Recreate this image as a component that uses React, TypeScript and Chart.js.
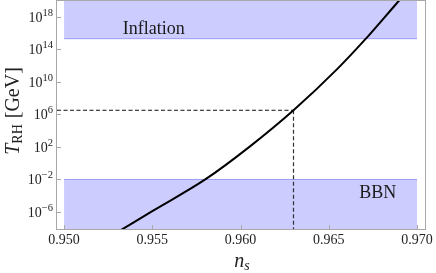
import React, { useEffect, useRef } from "react";
import { Chart, registerables } from "chart.js";

Chart.register(...registerables);

// Curve: reheating temperature vs spectral index
const nsValues = [0.953, 0.955, 0.958, 0.9605, 0.963, 0.9655, 0.9671, 0.968, 0.969];
const tRhValues = [3.2e-9, 1.3e-6, 1e-2, 1e2, 3.1e6, 4e11, 1.9e15, 3.2e17, 1e20];

// Reference point (dashed guides)
const markNs = 0.963;
const markT = 3.1e6;

// Bands
const bandNs = [0.95, 0.97];
const inflationLow = 1.9e15;
const bbnHigh = 1e-2;

// Axes
const xMin = 0.9496;
const xMax = 0.97045;
const yMin = 8.3e-9;
const yMax = 8e19;
const xTickValues = [0.95, 0.955, 0.96, 0.965, 0.97];
const yTickExps = [18, 14, 10, 6, 2, -2, -6];

const SERIF = "'Liberation Serif', 'DejaVu Serif', serif";

const decorPlugin = {
  id: "decor",
  afterDatasetsDraw(chart: any) {
    const ctx = chart.ctx;
    const xs = chart.scales.x;
    const ys = chart.scales.y;
    ctx.save();
    ctx.fillStyle = "#1a1a1a";
    ctx.font = `18px ${SERIF}`;
    ctx.textAlign = "left";
    ctx.textBaseline = "alphabetic";
    ctx.fillText("Inflation", xs.getPixelForValue(0.95333), ys.getPixelForValue(Math.pow(10, 15.8)));
    ctx.fillText("BBN", xs.getPixelForValue(0.96673), ys.getPixelForValue(Math.pow(10, -4.29)));
    ctx.restore();
  },
  afterDraw(chart: any) {
    const ctx = chart.ctx;
    const { left, right, top, bottom } = chart.chartArea;
    const xs = chart.scales.x;
    const ys = chart.scales.y;
    ctx.save();
    ctx.strokeStyle = "#a8a8a8";
    ctx.lineWidth = 1;
    ctx.strokeRect(Math.round(left) - 0.5, Math.round(top) - 0.5, Math.round(right - left) + 1, Math.round(bottom - top) + 1);
    ctx.beginPath();
    xTickValues.forEach((v) => {
      const px = Math.round(xs.getPixelForValue(v)) + 0.5;
      ctx.moveTo(px, bottom);
      ctx.lineTo(px, bottom - 4);
    });
    yTickExps.forEach((e) => {
      const py = Math.round(ys.getPixelForValue(Math.pow(10, e))) + 0.5;
      ctx.moveTo(left, py);
      ctx.lineTo(left + 4, py);
    });
    ctx.stroke();

    ctx.fillStyle = "#222";
    ctx.textBaseline = "alphabetic";
    ctx.textAlign = "left";
    yTickExps.forEach((e) => {
      const py = ys.getPixelForValue(Math.pow(10, e));
      const expStr = e < 0 ? "\u2212" + Math.abs(e) : String(e);
      ctx.font = `10.5px ${SERIF}`;
      const ew = ctx.measureText(expStr).width;
      ctx.font = `14px ${SERIF}`;
      const bw = ctx.measureText("10").width;
      const xr = left - 4;
      ctx.fillText("10", xr - ew - bw, py + 5);
      ctx.font = `10.5px ${SERIF}`;
      ctx.fillText(expStr, xr - ew, py - 1);
    });

    ctx.save();
    ctx.translate(19, 111);
    ctx.rotate(-Math.PI / 2);
    ctx.font = `italic 20px ${SERIF}`;
    const wT = ctx.measureText("T").width;
    ctx.font = `14px ${SERIF}`;
    const wRH = ctx.measureText("RH").width;
    ctx.font = `20px ${SERIF}`;
    const wG = ctx.measureText(" [GeV]").width;
    let x0 = -(wT + wRH + 1 + wG) / 2;
    ctx.font = `italic 20px ${SERIF}`;
    ctx.fillText("T", x0, 0);
    x0 += wT;
    ctx.font = `14px ${SERIF}`;
    ctx.fillText("RH", x0, 3);
    x0 += wRH + 1;
    ctx.font = `20px ${SERIF}`;
    ctx.fillText(" [GeV]", x0, 0);
    ctx.restore();

    ctx.font = `italic 20px ${SERIF}`;
    const wn = ctx.measureText("n").width;
    ctx.font = `italic 14px ${SERIF}`;
    const ws = ctx.measureText("s").width;
    const cx = (left + right) / 2 + 1;
    const xs0 = cx - (wn + ws) / 2;
    ctx.font = `italic 20px ${SERIF}`;
    ctx.fillText("n", xs0, 267);
    ctx.font = `italic 14px ${SERIF}`;
    ctx.fillText("s", xs0 + wn, 270);
    ctx.restore();
  },
};

export default function App() {
  const canvasRef = useRef<HTMLCanvasElement | null>(null);

  useEffect(() => {
    document.body.style.margin = "0";
    const canvas = canvasRef.current;
    if (!canvas) return;
    const curve = nsValues.map((x, i) => ({ x, y: tRhValues[i] }));
    const chart = new Chart(canvas, {
      type: "line",
      data: {
        datasets: [
          {
            label: "Inflation",
            data: bandNs.map((x) => ({ x, y: inflationLow })),
            borderColor: "#9c9cf2",
            borderWidth: 1,
            backgroundColor: "#ccccff",
            fill: "end",
            pointRadius: 0,
            order: 10,
          },
          {
            label: "BBN",
            data: bandNs.map((x) => ({ x, y: bbnHigh })),
            borderColor: "#9c9cf2",
            borderWidth: 1,
            backgroundColor: "#ccccff",
            fill: "start",
            pointRadius: 0,
            order: 9,
          },
          {
            label: "hguide",
            data: [
              { x: xMin, y: markT },
              { x: markNs, y: markT },
            ],
            borderColor: "#111",
            borderWidth: 1,
            borderDash: [4, 2.5],
            fill: false,
            pointRadius: 0,
            order: 5,
          },
          {
            label: "vguide",
            data: [
              { x: markNs, y: markT },
              { x: markNs, y: yMin },
            ],
            borderColor: "#333",
            borderWidth: 1.2,
            borderDash: [4, 2.5],
            fill: false,
            pointRadius: 0,
            order: 4,
          },
          {
            label: "T_RH",
            data: curve,
            borderColor: "#000",
            borderWidth: 2,
            fill: false,
            pointRadius: 0,
            cubicInterpolationMode: "monotone",
            order: 0,
          },
        ],
      },
      options: {
        responsive: false,
        animation: false,
        events: [],
        layout: { padding: { top: 1, right: 9, left: 0, bottom: 0 } },
        plugins: {
          legend: { display: false },
          tooltip: { enabled: false },
        },
        scales: {
          x: {
            type: "linear",
            min: xMin,
            max: xMax,
            border: { display: false },
            grid: { display: false, drawTicks: false },
            afterBuildTicks: (scale: any) => {
              scale.ticks = xTickValues.map((v) => ({ value: v }));
            },
            afterFit: (scale: any) => {
              scale.height = 44;
            },
            ticks: {
              autoSkip: false,
              maxRotation: 0,
              padding: 3,
              color: "#222",
              font: { family: SERIF, size: 14 },
              callback: (v: any) => Number(v).toFixed(3),
            },
          },
          y: {
            type: "logarithmic",
            min: yMin,
            max: yMax,
            border: { display: false },
            grid: { display: false, drawTicks: false },
            ticks: { display: false },
            afterFit: (scale: any) => {
              scale.width = 57;
            },
          },
        },
      },
      plugins: [decorPlugin],
    } as any);
    return () => chart.destroy();
  }, []);

  return (
    <div style={{ position: "absolute", left: 0, top: 0, width: 436, height: 273, background: "#fff" }}>
      <canvas ref={canvasRef} width={436} height={273} style={{ display: "block" }} />
    </div>
  );
}
